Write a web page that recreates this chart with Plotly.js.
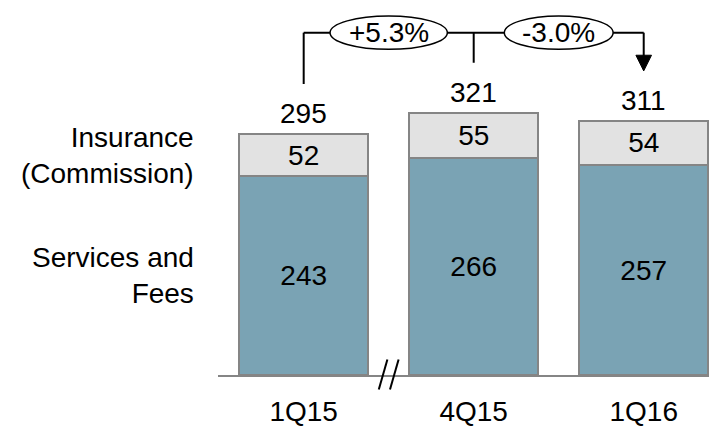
<!DOCTYPE html>
<html>
<head>
<meta charset="utf-8">
<script src="https://cdn.plot.ly/plotly-3.0.1.min.js"></script>
<style>
  html, body { margin: 0; padding: 0; background: #ffffff; }
  #chart { width: 709px; height: 426px; }
</style>
</head>
<body>
<div id="chart"></div>
<script>
// Revenue split per quarter
const quarters = ['1Q15', '4Q15', '1Q16'];
const servicesFees = [243, 266, 257];
const insurance = [52, 55, 54];
const totals = [295, 321, 311];
const rowLabels = ['Insurance<br>(Commission)', 'Services and<br>Fees'];
const changeLabels = ['+5.3%', '-3.0%'];

// styling constants
const FONT = 'Arial, "Liberation Sans", sans-serif';
const FS = 28;
const BLUE = '#7aa3b4';
const GREY = '#e2e2e2';
const EDGE = '#858585';
const X0 = -0.504, X1 = 2.384;   // x range (category index units)
const YMAX = 459;                 // y range top (data units)
const PLOT_H = 375;               // plot area height in px
const PX = YMAX / PLOT_H;         // data units per px
const legGap = 50 * PX;           // gap between bar top and bracket leg
const bracketY = 419;             // level of the connecting line
const ovalHalfH = 20.4;
const ovalHalfW = [0.345, 0.32];

const paperX = c => (c - X0) / (X1 - X0);
const paperYpx = dyPx => -dyPx / PLOT_H; // px below the baseline -> paper

const traces = [
  {
    type: 'bar', x: quarters, y: servicesFees, name: 'Services and Fees',
    marker: { color: BLUE, line: { color: EDGE, width: 2 } },
    width: 0.76,
    text: servicesFees.map(String), textposition: 'inside', insidetextanchor: 'middle',
    constraintext: 'none',
    textfont: { family: FONT, size: FS, color: '#000000' },
    hoverinfo: 'skip'
  },
  {
    type: 'bar', x: quarters, y: insurance, name: 'Insurance (Commission)',
    marker: { color: GREY, line: { color: EDGE, width: 2 } },
    width: 0.76,
    text: insurance.map(String), textposition: 'inside', insidetextanchor: 'middle',
    constraintext: 'none',
    textfont: { family: FONT, size: FS, color: '#000000' },
    hoverinfo: 'skip'
  }
];

const annotations = [];
// totals above bars
totals.forEach((t, i) => {
  annotations.push({
    x: quarters[i], y: t, xref: 'x', yref: 'y', text: String(t),
    showarrow: false, yanchor: 'bottom', yshift: 3,
    font: { family: FONT, size: FS, color: '#000000' }
  });
});
// row labels on the left, centred on the first bar's segments
annotations.push({
  xref: 'paper', yref: 'y', x: -0.0448, y: servicesFees[0] + insurance[0] / 2,
  text: rowLabels[0], showarrow: false, xanchor: 'right', align: 'right', yanchor: 'middle',
  font: { family: FONT, size: FS, color: '#000000' }
});
annotations.push({
  xref: 'paper', yref: 'y', x: -0.0448, y: servicesFees[0] / 2,
  text: rowLabels[1], showarrow: false, xanchor: 'right', align: 'right', yanchor: 'middle',
  font: { family: FONT, size: FS, color: '#000000' }
});
// growth labels inside the ovals
changeLabels.forEach((lab, i) => {
  annotations.push({
    xref: 'x', yref: 'y', x: i + 0.5, y: bracketY, text: lab, showarrow: false,
    xanchor: 'center', yanchor: 'middle',
    font: { family: FONT, size: FS, color: '#000000' }
  });
});

const line = { color: '#000000', width: 2 };
const shapes = [];
// connecting bracket
shapes.push({ type: 'line', xref: 'x', yref: 'y', x0: 0, x1: 2, y0: bracketY, y1: bracketY, line });
shapes.push({ type: 'line', xref: 'x', yref: 'y', x0: 0, x1: 0, y0: bracketY, y1: totals[0] + legGap, line });
shapes.push({ type: 'line', xref: 'x', yref: 'y', x0: 1, x1: 1, y0: bracketY, y1: totals[1] + legGap, line });
// arrow into the last bar
const tipY = totals[2] + legGap;
const headH = 15.7 * PX, headW = 7.8 / 170;
shapes.push({ type: 'line', xref: 'x', yref: 'y', x0: 2, x1: 2, y0: bracketY, y1: tipY + headH * 0.5, line });
shapes.push({
  type: 'path', xref: 'x', yref: 'y',
  path: `M ${2 - headW} ${tipY + headH} L ${2 + headW} ${tipY + headH} L 2 ${tipY} Z`,
  fillcolor: '#000000', line: { color: '#000000', width: 1 }
});
// ovals around the growth labels
changeLabels.forEach((lab, i) => {
  shapes.push({
    type: 'circle', xref: 'x', yref: 'y',
    x0: i + 0.5 - ovalHalfW[i], x1: i + 0.5 + ovalHalfW[i],
    y0: bracketY - ovalHalfH, y1: bracketY + ovalHalfH,
    fillcolor: '#ffffff', line: { color: '#000000', width: 1.5 }
  });
});
// axis break marks between 1Q15 and 4Q15
const brk = 0.5;
[-5.6, 5.6].forEach(off => {
  const cx = paperX(brk) + off / 491;
  shapes.push({
    type: 'line', xref: 'paper', yref: 'paper',
    x0: cx - 4.3 / 491, y0: paperYpx(14.5),
    x1: cx + 4.3 / 491, y1: paperYpx(-15.5),
    line: { color: '#000000', width: 2 }
  });
});

const layout = {
  width: 709, height: 426,
  margin: { l: 218, r: 0, t: 0, b: 51, pad: 0 },
  paper_bgcolor: '#ffffff', plot_bgcolor: '#ffffff',
  barmode: 'stack', showlegend: false,
  font: { family: FONT, size: FS, color: '#000000' },
  xaxis: {
    type: 'category', range: [X0, X1], showline: true, linecolor: EDGE, linewidth: 2,
    ticks: '', showgrid: false, zeroline: false, ticklabelstandoff: 10,
    tickfont: { family: FONT, size: FS, color: '#000000' }
  },
  yaxis: { range: [0, YMAX], visible: false, showgrid: false, zeroline: false },
  annotations, shapes
};

Plotly.newPlot('chart', traces, layout, { staticPlot: true, displayModeBar: false });
</script>
</body>
</html>
